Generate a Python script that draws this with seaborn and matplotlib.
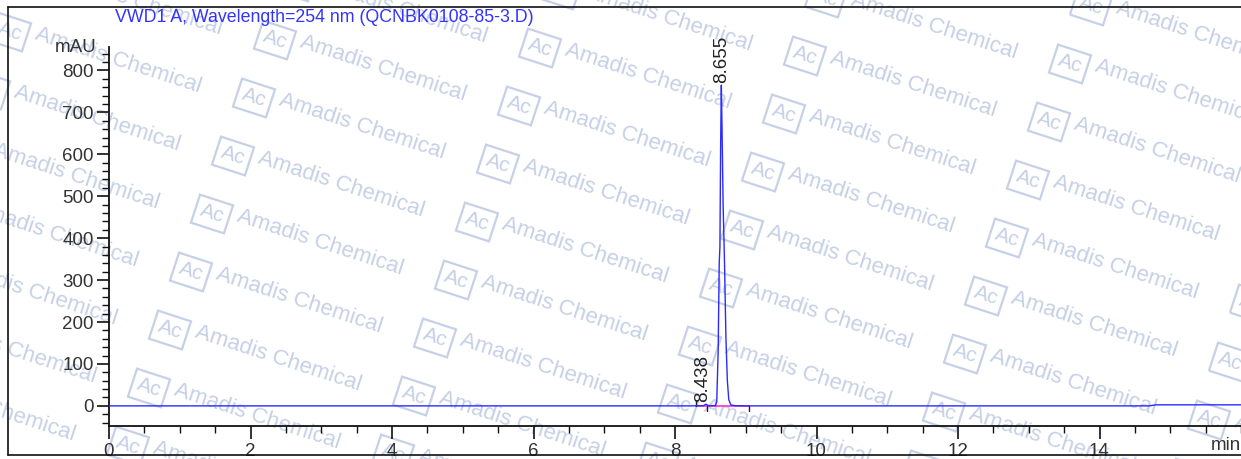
import numpy as np
import pandas as pd
import matplotlib
matplotlib.use('Agg')
import matplotlib.pyplot as plt
from matplotlib.lines import Line2D
from matplotlib.ticker import MultipleLocator
import seaborn as sns

sns.set_style('white')
plt.rcParams['font.family'] = ['Liberation Sans', 'DejaVu Sans']

# chromatogram trace (min, mAU)
time_min = [0.0, 8.20, 8.40, 8.438, 8.47, 8.57, 8.59, 8.61, 8.625, 8.635, 8.645,
            8.655, 8.665, 8.68, 8.70, 8.72, 8.74, 8.76, 8.79, 8.85, 9.0, 14.7, 14.8, 16.0]
signal_mau = [0.0, 0.0, 0.5, 4.0, 0.5, 0.5, 10, 130, 340, 380, 620,
              765, 660, 480, 340, 160, 60, 15, 2, 0.5, 0.0, 0.0, 2.5, 2.5]

peak_times = [8.438, 8.655]
peak_heights = [4.0, 765]
peak_labels = ['8.438', '8.655']

# integration baseline
baseline_x = [8.29, 9.05]
baseline_y = [0.0, 0.0]

x_ticks = [0, 2, 4, 6, 8, 10, 12, 14]
y_ticks = [0, 100, 200, 300, 400, 500, 600, 700, 800]

title = 'VWD1 A, Wavelength=254 nm (QCNBK0108-85-3.D)'

df = pd.DataFrame({'time': time_min, 'mAU': signal_mau})

W, H = 1241, 459
fig = plt.figure(figsize=(W / 100, H / 100), dpi=100)
ax = fig.add_axes([109 / W, 1 - 426 / H, 1 - 109 / W, (426 - 47) / H])
ax.patch.set_alpha(0)

# watermark
wm_color = '#c6d0e6'
for i in range(-2, 6):
    for j in range(-1, 9):
        px = 275 + 265 * i - 21 * j
        py = 40 + 58 * j + 8 * i
        if px < -150 or px > W + 20 or py < -30 or py > H + 30:
            continue
        fx, fy = px / W, 1 - py / H
        fig.text(fx, fy, 'Ac', fontsize=15, color=wm_color, rotation=-18,
                 ha='center', va='center', zorder=-2, rotation_mode='anchor',
                 bbox=dict(boxstyle='square,pad=0.25', fc='none', ec=wm_color, lw=1.6))
        fig.text(fx + 26 / W, fy - 2 / H, 'Amadis Chemical', fontsize=16, color=wm_color,
                 rotation=-18, ha='left', va='center', rotation_mode='anchor', zorder=-2)

sns.lineplot(data=df, x='time', y='mAU', ax=ax, color='#2a2aff', lw=1.0, zorder=3)
ax.plot(baseline_x, baseline_y, color='#ff33cc', lw=1.2, zorder=2)
for bx in [baseline_x[0]]:
    ax.plot([bx, bx], [0, 12], color='#222222', lw=1)
for bx in [peak_times[0] + 0.02, baseline_x[1]]:
    ax.plot([bx, bx], [0, -12], color='#222222', lw=1)

for t, h, lab in zip(peak_times, peak_heights, peak_labels):
    ax.text(t - 0.05 if h < 50 else t, h + 6, lab, rotation=90, ha='center', va='bottom',
            fontsize=13.5, color='#222222')

ax.set_xlim(0, 16.0)
ax.set_ylim(-48, 856)
ax.set_xticks(x_ticks)
ax.set_yticks(y_ticks)
ax.xaxis.set_minor_locator(MultipleLocator(0.5))
ax.yaxis.set_minor_locator(MultipleLocator(20))
ax.tick_params(axis='both', which='major', direction='out', length=9, width=1.2,
               labelsize=13.5, labelcolor='#333333', color='#111111', bottom=True, left=True)
ax.tick_params(axis='both', which='minor', direction='out', length=5, width=1.0,
               color='#111111', bottom=True, left=True)
ax.tick_params(axis='x', pad=3)
ax.tick_params(axis='y', pad=2)
ax.set_xlabel('')
ax.set_ylabel('')
for side in ['top', 'right']:
    ax.spines[side].set_visible(False)
for side in ['left', 'bottom']:
    ax.spines[side].set_color('#111111')
    ax.spines[side].set_linewidth(1.3)

fig.text(97 / W, 1 - 47 / H, 'mAU', ha='right', va='center', fontsize=13.5, color='#333333')
fig.text(1241 / W, 1 - 446 / H, 'min', ha='right', va='center', fontsize=13.5, color='#333333')
fig.text(115 / W, 1 - 18 / H, title, ha='left', va='center', fontsize=12.8, color='#3333ff')

# outer frame
for (x0, y0, x1, y1) in [(8, 7, W + 5, 7), (8, 7, 8, 455), (8, 455, W + 5, 455)]:
    fig.add_artist(Line2D([x0 / W, x1 / W], [1 - y0 / H, 1 - y1 / H], color='#111111', lw=1.2))

fig.savefig('out.png', dpi=100)
